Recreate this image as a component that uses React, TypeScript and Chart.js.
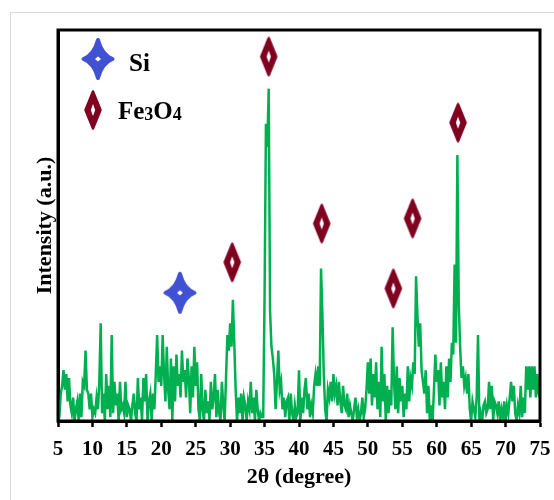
import { useEffect, useRef } from "react";
import { Chart, registerables } from "chart.js";

Chart.register(...registerables);

// XRD scan, 2θ from 5° to 75° sampled every 0.2°
const SCAN_START = 5;
const SCAN_STEP = 0.2;
const intensity = [
  0, 1, 7, 9, 13,
  8, 12, 5, 11, 4,
  2, 6, 0, 3, 5,
  0, 7, 1, 10, 9,
  18, 8, 7, 3, 7,
  1, 3, 2, 6, 3,
  10, 25, 2, 7, 0,
  12, 3, 9, 1, 22,
  2, 10, 4, 7, 0,
  10, 3, 4, 2, 10,
  1, 4, 3, 0, 4,
  7, 2, 0, 11, 3,
  6, 0, 11, 5, 12,
  0, 5, 7, 0, 7,
  3, 12, 22, 10, 14,
  9, 22, 12, 5, 19,
  8, 3, 16, 0, 14,
  5, 17, 9, 12, 6,
  18, 10, 13, 6, 16,
  11, 2, 14, 6, 19,
  9, 15, 3, 0, 12,
  3, 0, 8, 2, 5,
  0, 10, 3, 6, 12,
  1, 8, 2, 0, 10,
  4, 0, 11, 22, 18,
  25, 19, 31, 20, 8,
  0, 6, 2, 7, 0,
  6, 4, 0, 5, 3,
  10, 2, 6, 0, 8,
  3, 0, 2, 1, 1,
  32, 76, 70, 85, 28,
  19, 16, 12, 3, 10,
  18, 8, 10, 3, 6,
  1, 5, 6, 0, 7,
  2, 0, 4, 1, 2,
  13, 0, 6, 2, 8,
  11, 3, 7, 1, 4,
  2, 9, 12, 9, 14,
  9, 39, 27, 12, 3,
  0, 8, 6, 10, 5,
  12, 7, 9, 4, 10,
  5, 2, 9, 4, 3,
  7, 1, 4, 2, 0,
  3, 6, 1, 3, 0,
  2, 6, 1, 3, 8,
  15, 7, 16, 4, 12,
  6, 15, 3, 10, 1,
  19, 5, 12, 0, 9,
  2, 8, 4, 24, 10,
  3, 14, 2, 11, 5,
  9, 1, 7, 3, 14,
  5, 11, 9, 15, 12,
  37, 27, 19, 25, 13,
  10, 7, 13, 2, 9,
  0, 4, 0, 8, 17,
  10, 13, 4, 15, 6,
  10, 3, 14, 6, 16,
  10, 20, 17, 40, 20,
  68, 30, 19, 11, 14,
  9, 11, 7, 12, 3,
  0, 5, 3, 1, 6,
  22, 0, 2, 0, 4,
  5, 2, 3, 10, 3,
  9, 0, 5, 4, 2,
  5, 0, 3, 1, 5,
  0, 4, 2, 6, 10,
  5, 9, 2, 0, 4,
  2, 9, 1, 6, 2,
  14, 8, 14, 6, 14,
  8, 14, 6, 12, 7,
  6,
];

// Phase markers
const siPeakX = [22.7];
const siPeakY = [32.8];
const fePeakX = [30.3, 35.6, 43.3, 53.7, 56.5, 63.1];
const fePeakY = [40.6, 93.2, 50.5, 33.9, 51.8, 76.3];

const xTickValues = [5, 10, 15, 20, 25, 30, 35, 40, 45, 50, 55, 60, 65, 70, 75];
const xTitle = "2θ (degree)";
const yTitle = "Intensity (a.u.)";
const legendSi = "Si";
const legendFe = ["Fe", "3", "O", "4"];

const GREEN = "#00b050";
const BLUE = "#4151d3";
const RED = "#800020";
const SERIF = '"Liberation Serif", "Times New Roman", serif';

function makeStar(): HTMLCanvasElement {
  const c = document.createElement("canvas");
  c.width = 36;
  c.height = 44;
  const g = c.getContext("2d")!;
  g.translate(18, 22);
  const w = 14.5, h = 19, k = 4;
  g.beginPath();
  g.moveTo(0, -h);
  g.quadraticCurveTo(k, -k, w, 0);
  g.quadraticCurveTo(k, k, 0, h);
  g.quadraticCurveTo(-k, k, -w, 0);
  g.quadraticCurveTo(-k, -k, 0, -h);
  g.closePath();
  g.fillStyle = BLUE;
  g.strokeStyle = BLUE;
  g.lineWidth = 4;
  g.lineJoin = "round";
  g.fill();
  g.stroke();
  g.fillStyle = "#ffffff";
  g.beginPath();
  g.moveTo(0, -2.5);
  g.lineTo(3, 0);
  g.lineTo(0, 2.5);
  g.lineTo(-3, 0);
  g.closePath();
  g.fill();
  return c;
}

function makeDiamond(): HTMLCanvasElement {
  const c = document.createElement("canvas");
  c.width = 22;
  c.height = 44;
  const g = c.getContext("2d")!;
  g.translate(11, 22);
  const w = 7.5, h = 18.5;
  g.beginPath();
  g.moveTo(0, -h);
  g.lineTo(w, 0);
  g.lineTo(0, h);
  g.lineTo(-w, 0);
  g.closePath();
  g.fillStyle = RED;
  g.strokeStyle = RED;
  g.lineWidth = 2.5;
  g.lineJoin = "round";
  g.fill();
  g.stroke();
  g.fillStyle = "#ffffff";
  g.beginPath();
  g.moveTo(0, -6);
  g.lineTo(2.2, 0);
  g.lineTo(0, 6);
  g.lineTo(-2.2, 0);
  g.closePath();
  g.fill();
  return c;
}

export default function App() {
  const ref = useRef<HTMLCanvasElement | null>(null);

  useEffect(() => {
    const canvas = ref.current;
    if (!canvas) return;
    const star = makeStar();
    const diamond = makeDiamond();

    const scan = intensity.map((v, i) => ({ x: SCAN_START + SCAN_STEP * i, y: v }));
    const siPts = siPeakX.map((x, i) => ({ x, y: siPeakY[i] }));
    const fePts = fePeakX.map((x, i) => ({ x, y: fePeakY[i] }));

    const framePlugin = {
      id: "frame",
      beforeDraw(chart: any) {
        const ctx = chart.ctx;
        ctx.save();
        ctx.fillStyle = "#ffffff";
        ctx.fillRect(0, 0, chart.width, chart.height);
        ctx.strokeStyle = "#d9d9d9";
        ctx.lineWidth = 1;
        ctx.strokeRect(10.5, 12.5, 700, 700);
        ctx.restore();
      },
      afterDraw(chart: any) {
        const { ctx, chartArea: a } = chart;
        ctx.save();
        ctx.strokeStyle = "#000000";
        ctx.lineWidth = 3;
        ctx.strokeRect(a.left, a.top, a.right - a.left, a.bottom - a.top);
        // legend
        const sx = a.left + 40, sy = a.top + 29;
        ctx.drawImage(star, sx - star.width / 2, sy - star.height / 2);
        const dx = a.left + 35, dy = a.top + 80;
        ctx.drawImage(diamond, dx - diamond.width / 2, dy - diamond.height / 2);
        ctx.fillStyle = "#000000";
        ctx.textBaseline = "alphabetic";
        ctx.textAlign = "left";
        ctx.font = `bold 25px ${SERIF}`;
        ctx.fillText(legendSi, a.left + 71, a.top + 41);
        let tx = a.left + 60;
        const ty = a.top + 89;
        legendFe.forEach((part, i) => {
          const sub = i % 2 === 1;
          ctx.font = sub ? `bold 18px ${SERIF}` : `bold 25px ${SERIF}`;
          ctx.fillText(part, tx, sub ? ty + 1 : ty);
          tx += ctx.measureText(part).width;
        });
        ctx.restore();
      },
    };

    const chart = new Chart(canvas, {
      type: "scatter",
      data: {
        datasets: [
          {
            label: "XRD",
            data: scan,
            showLine: true,
            borderColor: GREEN,
            borderWidth: 2.5,
            pointRadius: 0,
            tension: 0,
          },
          {
            label: "Si",
            data: siPts,
            pointStyle: star as any,
            pointRadius: 16,
          },
          {
            label: "Fe3O4",
            data: fePts,
            pointStyle: diamond as any,
            pointRadius: 16,
          },
        ],
      },
      options: {
        responsive: false,
        animation: false,
        devicePixelRatio: 1,
        layout: { autoPadding: false, padding: { left: 0, right: 14, top: 30, bottom: 0 } },
        plugins: {
          legend: { display: false },
          tooltip: { enabled: false },
        },
        scales: {
          x: {
            type: "linear",
            min: 5,
            max: 75,
            afterBuildTicks: (s: any) => {
              s.ticks = xTickValues.map((v) => ({ value: v }));
            },
            afterFit: (s: any) => {
              s.height = 79;
              s.paddingLeft = 0;
              s.paddingRight = 0;
            },
            grid: {
              display: true,
              drawOnChartArea: false,
              drawTicks: true,
              tickLength: 6,
              tickWidth: 2.5,
              tickColor: "#000000",
            },
            border: { display: true, color: "#000000", width: 3 },
            ticks: {
              color: "#000000",
              padding: 10,
              maxRotation: 0,
              autoSkip: false,
              font: { family: SERIF, size: 21, weight: "bold" },
            },
            title: {
              display: true,
              text: xTitle,
              color: "#000000",
              padding: { top: 0, bottom: 9 },
              font: { family: SERIF, size: 22, weight: "bold" },
            },
          },
          y: {
            min: 0,
            max: 100,
            afterFit: (s: any) => {
              s.width = 58;
              s.paddingTop = 0;
              s.paddingBottom = 0;
            },
            grid: { display: false },
            border: { display: true, color: "#000000", width: 3 },
            ticks: { display: false },
            title: {
              display: true,
              text: yTitle,
              color: "#000000",
              padding: { top: 32, bottom: 0 },
              font: { family: SERIF, size: 22, weight: "bold" },
            },
          },
        },
      },
      plugins: [framePlugin],
    });

    return () => chart.destroy();
  }, []);

  return (
    <div style={{ position: "absolute", left: 0, top: 0, width: 554, height: 500, overflow: "hidden" }}>
      <canvas ref={ref} width={554} height={500} style={{ display: "block" }} />
    </div>
  );
}
